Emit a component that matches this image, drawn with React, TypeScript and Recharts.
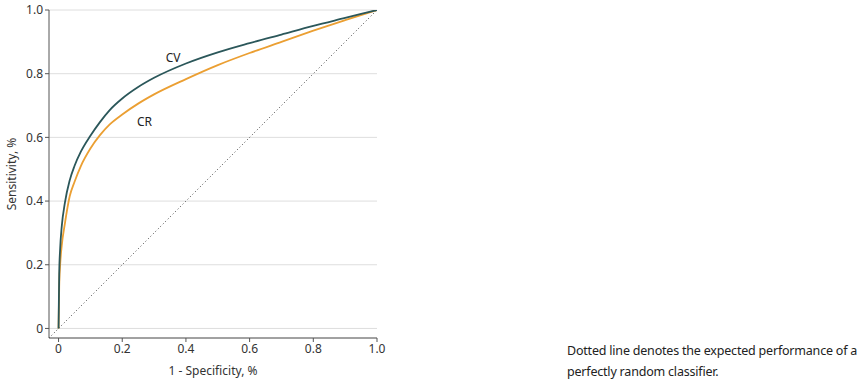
import { CartesianGrid, Label, Line, LineChart, ReferenceDot, ReferenceLine, XAxis, YAxis } from "recharts"

// 1 - specificity (false positive rate)
const fpr = [0, 0.002, 0.005, 0.01, 0.02, 0.035, 0.05, 0.07, 0.1, 0.13, 0.16, 0.2, 0.25, 0.3, 0.4, 0.5, 0.6, 0.7, 0.8, 0.9, 1.0]
const cvSens = [0, 0.17, 0.25, 0.32, 0.395, 0.465, 0.51, 0.555, 0.605, 0.648, 0.685, 0.722, 0.758, 0.787, 0.832, 0.867, 0.896, 0.923, 0.95, 0.975, 1.0]
const crSens = [0, 0.13, 0.2, 0.26, 0.33, 0.415, 0.46, 0.51, 0.565, 0.607, 0.64, 0.672, 0.706, 0.735, 0.783, 0.827, 0.865, 0.9, 0.935, 0.968, 1.0]

const ticks = [0, 0.2, 0.4, 0.6, 0.8, 1.0]
const seriesLabels = [
  { name: "CV", x: 0.36, y: 0.85 },
  { name: "CR", x: 0.27, y: 0.65 },
]

const data = fpr.map((x, i) => ({ fpr: x, cv: cvSens[i], cr: crSens[i] }))

const CV_COLOR = "#2b575a"
const CR_COLOR = "#eb9f32"
const FONT = "'Noto Sans', sans-serif"

const fmt = (v: number) => (v === 0 ? "0" : v.toFixed(1))
const tickStyle = { fill: "#333", fontSize: 12, fontFamily: FONT }
const labelStyle = { fill: "#333", fontSize: 12, fontFamily: FONT }

export default function App() {
  return (
    <div style={{ position: "absolute", left: 0, top: 0, width: 864, height: 384, background: "#fff", fontFamily: FONT }}>
      <LineChart width={864} height={384} data={data} margin={{ top: 10, right: 487, bottom: 0, left: 0 }}>
        <CartesianGrid vertical={false} stroke="#dedede" />
        <XAxis
          type="number"
          dataKey="fpr"
          domain={[-0.03, 1]}
          ticks={ticks}
          tickFormatter={fmt}
          allowDataOverflow
          height={46}
          tickSize={4}
          stroke="#555"
          tick={tickStyle}
        >
          <Label value="1 - Specificity, %" position="insideBottom" offset={9} style={labelStyle} />
        </XAxis>
        <YAxis
          type="number"
          domain={[-0.03, 1]}
          ticks={ticks}
          tickFormatter={fmt}
          allowDataOverflow
          width={49}
          tickSize={4}
          stroke="#555"
          tick={tickStyle}
        >
          <Label value="Sensitivity, %" angle={-90} position="insideLeft" offset={12} style={{ ...labelStyle, textAnchor: "middle" }} />
        </YAxis>
        <ReferenceLine
          segment={[{ x: -0.03, y: -0.03 }, { x: 1, y: 1 }]}
          stroke="#444"
          strokeDasharray="1 2.5"
          ifOverflow="visible"
        />
        <Line type="monotone" dataKey="cr" stroke={CR_COLOR} strokeWidth={1.8} dot={false} isAnimationActive={false} />
        <Line type="monotone" dataKey="cv" stroke={CV_COLOR} strokeWidth={1.8} dot={false} isAnimationActive={false} />
        {seriesLabels.map((l) => (
          <ReferenceDot
            key={l.name}
            x={l.x}
            y={l.y}
            r={0}
            stroke="none"
            label={{ value: l.name, position: "center", fill: "#222", fontSize: 12, fontFamily: FONT }}
          />
        ))}
      </LineChart>
      <div style={{ position: "absolute", left: 567, top: 340, fontSize: 12.5, lineHeight: "21px", color: "#222", letterSpacing: -0.2 }}>
        Dotted line denotes the expected performance of a
        <br />
        perfectly random classifier.
      </div>
    </div>
  )
}
